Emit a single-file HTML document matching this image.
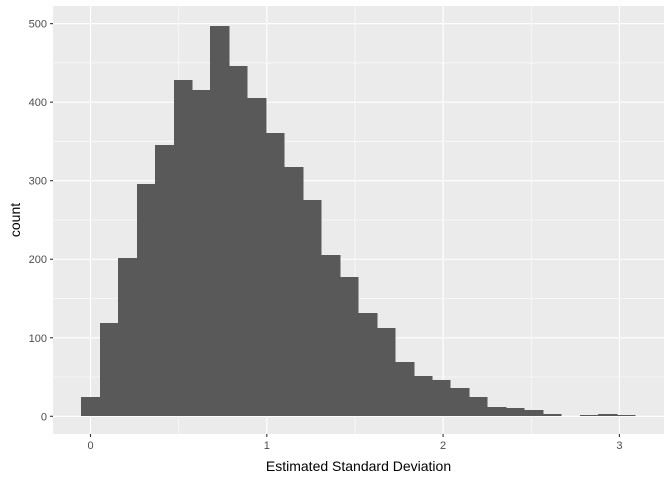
<!DOCTYPE html>
<html><head><meta charset="utf-8"><style>
html,body{margin:0;padding:0;background:#fff;}
svg{display:block;font-family:"Liberation Sans",Arial,sans-serif;}
</style></head><body>
<svg id="chart" width="672" height="480" viewBox="0 0 672 480"></svg>
<script>
const binCenters = [0,1,2,3,4,5,6,7,8,9,10,11,12,13,14,15,16,17,18,19,20,21,22,23,24,25,26,27,28,29];
const counts = [25,119,201,296,345,428,415,497,446,405,361,317,275,206,178,131,113,69,51,46,36,25,12,10,8,3,0,1,3,1];
const binWidth = 0.1047;
const xTicks = [0,1,2,3];
const xTickLabels = ["0","1","2","3"];
const yTicks = [0,100,200,300,400,500];
const yTickLabels = ["0","100","200","300","400","500"];
const xMinor = [0.5,1.5,2.5];
const yMinor = [50,150,250,350,450];

const svg = document.getElementById('chart');
const NS = 'http://www.w3.org/2000/svg';
const P = {l:53, r:664, t:6, b:434};
const sx = v => 90.5 + v*176.3;
const sy = v => 416.3 - v*0.7853;
function mk(tag, attrs, parent){
  const e = document.createElementNS(NS, tag);
  for (const k in attrs) e.setAttribute(k, attrs[k]);
  (parent||svg).appendChild(e);
  return e;
}
const bg = mk('rect',{x:P.l,y:P.t,width:P.r-P.l,height:P.b-P.t,fill:'#ebebeb'});


yMinor.forEach(v=>{const g=mk('line',{x1:P.l,x2:P.r,y1:sy(v),y2:sy(v),stroke:'#fff','stroke-width':0.55});

});
xMinor.forEach(v=>{const g=mk('line',{x1:sx(v),x2:sx(v),y1:P.t,y2:P.b,stroke:'#fff','stroke-width':0.55});

});
yTicks.forEach(v=>{const g=mk('line',{x1:P.l,x2:P.r,y1:sy(v),y2:sy(v),stroke:'#fff','stroke-width':1.1});

});
xTicks.forEach(v=>{const g=mk('line',{x1:sx(v),x2:sx(v),y1:P.t,y2:P.b,stroke:'#fff','stroke-width':1.1});

});
binCenters.forEach((b,i)=>{
  const c = b*binWidth;
  const x0 = Math.round(sx(c-binWidth/2)), x1 = Math.round(sx(c+binWidth/2));
  if (counts[i] <= 0) return;
  const base = Math.round(sy(0));
  let y = Math.round(sy(counts[i]));
  if (y > base - 1) y = base - 1;
  const h = base - y;
  const r = mk('rect',{x:x0,y:y,width:x1-x0+0.6,height:h,fill:'#595959','shape-rendering':'crispEdges'});
  
  
});
yTicks.forEach((v,i)=>{
  const t=mk('line',{x1:P.l-3,x2:P.l,y1:sy(v),y2:sy(v),stroke:'#333','stroke-width':1.1});
  
  
  const l=mk('text',{x:P.l-6,y:sy(v)+4,'text-anchor':'end','font-size':11,fill:'#4d4d4d'});
  l.textContent=yTickLabels[i];
  
  
});
xTicks.forEach((v,i)=>{
  const t=mk('line',{x1:sx(v),x2:sx(v),y1:P.b,y2:P.b+3,stroke:'#333','stroke-width':1.1});
  
  
  const l=mk('text',{x:sx(v),y:P.b+15,'text-anchor':'middle','font-size':11,fill:'#4d4d4d'});
  l.textContent=xTickLabels[i];
  
  
});
const xt=mk('text',{x:(P.l+P.r)/2,y:471,'text-anchor':'middle','font-size':14,fill:'#000'});
xt.textContent='Estimated Standard Deviation';


const yt=mk('text',{x:0,y:0,'text-anchor':'middle','font-size':14,fill:'#000',transform:`translate(20,${(P.t+P.b)/2}) rotate(-90)`});
yt.textContent='count';


</script>
</body></html>
